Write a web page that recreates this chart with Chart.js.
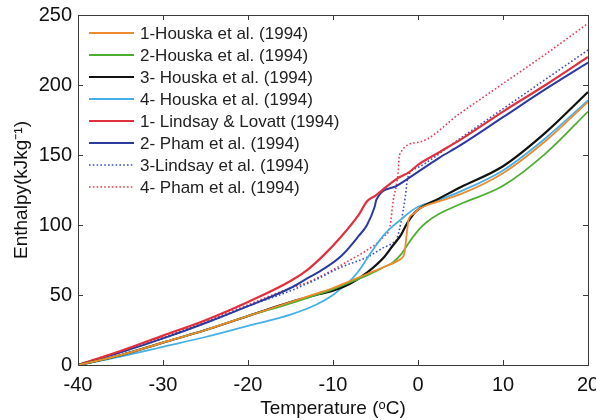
<!DOCTYPE html>
<html>
<head>
<meta charset="utf-8">
<script src="https://cdn.jsdelivr.net/npm/chart.js@4/dist/chart.umd.min.js"></script>
<style>
html,body{margin:0;padding:0;background:#fff;}
#c{display:block;}
</style>
</head>
<body>
<canvas id="c" width="596" height="420"></canvas>
<script>
// ---- data (temperature in °C, enthalpy in kJ/kg) ----
const houska1T = [-40,-35,-30,-25,-20,-15,-12,-10,-8,-6,-4,-2.5,-2,-1.6,-1.3,-1.1,-0.5,0,2.5,5,10,15,20];
const houska1H = [0,7,16,25,35,45,51,55,60,65,70,74,76,80,95,104,108,111,117,122,137,160,188];

const houska2T = [-40,-35,-30,-25,-20,-15,-12,-10,-8,-6,-4,-3,-2,-1,0,1,2.5,5,10,15,20];
const houska2H = [0,7,16,25,35,44,50,54,59,64,70,73,79,88,96,102,108,115,128,151,181];

const houska3T = [-40,-35,-30,-25,-20,-15,-12,-10,-8,-6,-4,-3,-2,-1.3,-0.5,0,2.5,5,10,15,20];
const houska3H = [0,7,16,25,35,45,50,53,58,66,77,85,93,101,108,111,119,127,142,166,195];

const houska4T = [-40,-35,-30,-25,-20,-15,-12,-10,-9,-8,-7,-6,-5,-4,-3,-2,-1,0,2.5,5,10,15,20];
const houska4H = [0,6,13,20,28,36,43,50,55,60,67,76,85,93,99,104,109,113,118,124,139,162,189];

const lindsayLovattT = [-40,-35,-30,-25,-20,-15,-13,-11,-9,-7,-6,-5,-4,-2.5,-1,0,2.5,5,10,15,20];
const lindsayLovattH = [0,10,21,32,45,60,68,79,92,107,117,121,126,133,138,143,152,161,181,200,220];

const pham2T = [-40,-35,-30,-25,-20,-15,-13,-11,-9,-7,-6,-5.1,-4.9,-2.5,0,2.5,5,10,15,20];
const pham2H = [0,9,19,30,42,55,62,69,78,92,100,113,118,128,138,148,157,177,197,216];

const lindsay3T = [-40,-35,-30,-25,-20,-15,-12,-9,-6,-4,-3,-2.5,-2,-1.5,-1.2,0,5,10,15,20];
const lindsay3H = [0,9,19,30,42,53,61,70,77,84,87,90,102,120,134,141,162,183,204,225];

const pham4T = [-40,-35,-30,-25,-20,-15,-13,-10,-8,-6,-4,-3.3,-2.9,-2.5,-2.3,-2.2,0,5,10,15,20];
const pham4H = [0,10,20,31,43,55,59,68,75,82,92,99,118,130,140,150,159,180,201,222,244];

const seriesLabels = [
  '1-Houska et al. (1994)',
  '2-Houska et al. (1994)',
  '3- Houska et al. (1994)',
  '4- Houska et al. (1994)',
  '1- Lindsay & Lovatt (1994)',
  '2- Pham et al. (1994)',
  '3-Lindsay et al. (1994)',
  '4- Pham et al. (1994)'
];
const xTickValues = [-40,-30,-20,-10,0,10,20];
const yTickValues = [0,50,100,150,200,250];

// ---- build datasets ----
function pts(T,H){ return T.map((t,i)=>({x:t,y:H[i]})); }
const seriesData = [
  pts(houska1T,houska1H), pts(houska2T,houska2H), pts(houska3T,houska3H), pts(houska4T,houska4H),
  pts(lindsayLovattT,lindsayLovattH), pts(pham2T,pham2H), pts(lindsay3T,lindsay3H), pts(pham4T,pham4H)
];
const styles = [
  {c:'#EE8B2E', w:1.8, d:[]},
  {c:'#4DAE2F', w:1.8, d:[]},
  {c:'#111111', w:2.2, d:[]},
  {c:'#45B0E6', w:1.8, d:[]},
  {c:'#E0303C', w:2.2, d:[]},
  {c:'#2B3A9E', w:2.0, d:[]},
  {c:'#3C50C4', w:1.6, d:[1.6,2.2]},
  {c:'#E23A55', w:1.6, d:[1.6,2.2]}
];
const datasets = seriesData.map((d,i)=>({
  label: seriesLabels[i],
  data: d,
  borderColor: styles[i].c,
  backgroundColor: styles[i].c,
  borderWidth: styles[i].w,
  borderDash: styles[i].d,
  pointRadius: 0,
  cubicInterpolationMode: 'monotone',
  fill: false
}));

const FONT = "'Liberation Sans', Arial, Helvetica, sans-serif";

const framePlugin = {
  id: 'frame',
  afterDraw(chart){
    const {ctx, chartArea, scales} = chart;
    const {left,right,top,bottom} = chartArea;
    ctx.save();
    ctx.strokeStyle = '#3a3a3a';
    ctx.lineWidth = 1;
    ctx.strokeRect(Math.round(left)+0.5, Math.round(top)+0.5, Math.round(right-left), Math.round(bottom-top));
    ctx.beginPath();
    const L = 5;
    scales.x.ticks.forEach(t=>{
      const px = Math.round(scales.x.getPixelForValue(t.value))+0.5;
      ctx.moveTo(px,bottom); ctx.lineTo(px,bottom-L);
      ctx.moveTo(px,top); ctx.lineTo(px,top+L);
    });
    scales.y.ticks.forEach(t=>{
      const py = Math.round(scales.y.getPixelForValue(t.value))+0.5;
      ctx.moveTo(left,py); ctx.lineTo(left+L,py);
      ctx.moveTo(right,py); ctx.lineTo(right-L,py);
    });
    ctx.stroke();
    ctx.restore();
  }
};

const legendPlugin = {
  id: 'innerLegend',
  afterDatasetsDraw(chart){
    const {ctx, chartArea} = chart;
    const x0 = chartArea.left + 11, lineLen = 45, gap = 6;
    const y0 = chartArea.top + 18, dy = 22;
    ctx.save();
    ctx.font = "17px " + FONT;
    ctx.textBaseline = 'middle';
    ctx.fillStyle = '#222';
    chart.data.datasets.forEach((ds,i)=>{
      const y = y0 + i*dy;
      ctx.strokeStyle = ds.borderColor;
      ctx.lineWidth = ds.borderDash.length ? 1.6 : 2;
      ctx.setLineDash(ds.borderDash);
      ctx.beginPath(); ctx.moveTo(x0,y); ctx.lineTo(x0+lineLen,y); ctx.stroke();
      ctx.setLineDash([]);
      ctx.fillText(ds.label, x0+lineLen+gap, y+1);
    });
    ctx.restore();
  }
};

new Chart(document.getElementById('c'), {
  type: 'line',
  data: { datasets },
  plugins: [framePlugin, legendPlugin],
  options: {
    responsive: false,
    animation: false,
    devicePixelRatio: 1,
    layout: { padding: { top: 15, right: 8, left: 0, bottom: 0 } },
    plugins: { legend: { display: false }, tooltip: { enabled: false } },
    scales: {
      x: {
        type: 'linear', min: -40, max: 20,
        afterBuildTicks(s){ s.ticks = xTickValues.map(v=>({value:v})); },
        ticks: { font: { family: FONT, size: 20 }, color: '#111', padding: 8, maxRotation: 0, autoSkip: false },
        grid: { display: false, drawTicks: false },
        border: { display: false },
        title: { display: true, text: 'Temperature (ᵒC)', font: { family: FONT, size: 19 }, color: '#111', padding: { top: 0, bottom: 0 } },
        afterFit(s){ s.height = 55; s.paddingLeft = 0; s.paddingRight = 0; }
      },
      y: {
        type: 'linear', min: 0, max: 250,
        afterBuildTicks(s){ s.ticks = yTickValues.map(v=>({value:v})); },
        ticks: { font: { family: FONT, size: 20 }, color: '#111', padding: 6, autoSkip: false },
        grid: { display: false, drawTicks: false },
        border: { display: false },
        title: { display: true, text: 'Enthalpy(kJkg⁻¹)', font: { family: FONT, size: 19 }, color: '#111', padding: { top: 10, bottom: 0 } },
        afterFit(s){ s.width = 78; s.paddingTop = 0; s.paddingBottom = 0; }
      }
    }
  }
});
</script>
</body>
</html>
